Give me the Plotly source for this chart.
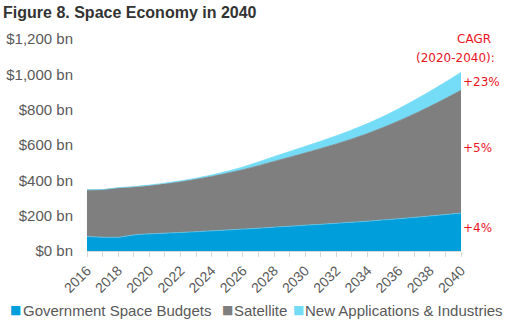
import plotly.graph_objects as go

years = list(range(2016, 2041))
gov = [82, 78, 78, 91, 97, 101, 105, 109, 114, 119, 124, 129, 135, 140, 146,
       151, 157, 163, 169, 176, 183, 190, 198, 206, 215]
gov_plus_sat = [345, 347, 356, 362, 370, 380, 392, 406, 422, 440, 460, 483, 507, 531, 555,
                580, 606, 634, 665, 699, 736, 776, 818, 863, 910]
new_apps = [1, 1, 2, 2, 3, 4, 5, 6, 8, 11, 15, 21, 27, 32, 37,
            41, 46, 51, 56, 62, 69, 77, 85, 93, 101]
satellite = [t - g for t, g in zip(gov_plus_sat, gov)]

names = ["Government Space Budgets", "Satellite", "New Applications & Industries"]
colors = ["#009EDB", "#7F7F7F", "#75DCF8"]
series = [gov, satellite, new_apps]
cagr = ["+4%", "+5%", "+23%"]

yticks = [0, 200, 400, 600, 800, 1000, 1200]
ytick_text = ["$0 bn", "$200 bn", "$400 bn", "$600 bn", "$800 bn", "$1,000 bn", "$1,200 bn"]
xtick_vals = list(range(2016, 2041, 2))

W, H = 511, 326
L, R, T, B = 87, 50, 39, 75
pw, ph = W - L - R, H - T - B

def px(x):
    return (x - L) / pw

def py(y):
    return (H - B - y) / ph

fig = go.Figure()
line_cols = ["#5CC6EE", "#7F7F7F", "#75DCF8"]
for n, c, lc, s in zip(names, colors, line_cols, series):
    fig.add_trace(go.Scatter(x=years, y=s, name=n, stackgroup="one", mode="lines",
                             line=dict(width=0.8, color=lc, shape="spline", smoothing=0.5),
                             fillcolor=c, showlegend=False, hoverinfo="skip"))

fig.update_layout(
    width=W, height=H,
    margin=dict(l=L, r=R, t=T, b=B, autoexpand=False),
    paper_bgcolor="white", plot_bgcolor="white",
    font=dict(family="Liberation Sans, Arial, sans-serif", color="#595959"),
    title=dict(text="<b>Figure 8. Space Economy in 2040</b>",
               font=dict(size=16, color="#333333", family="Liberation Sans, Arial, sans-serif"),
               xref="container", x=0.006, xanchor="left",
               yref="container", y=1 - 12 / H, yanchor="middle"),
    xaxis=dict(range=[2016, 2040], tickvals=xtick_vals, ticktext=[str(v) for v in xtick_vals],
               tickangle=-45, tickfont=dict(size=14, color="#595959"), automargin=False,
               showgrid=False, zeroline=False, showline=True, linecolor="#D9D9D9", linewidth=1,
               ticks="outside", ticklen=5, tickcolor="#D9D9D9",
               minor=dict(dtick=1, ticks="outside", ticklen=5, tickcolor="#D9D9D9")),
    yaxis=dict(range=[0, 1200], tickvals=yticks, ticktext=ytick_text, automargin=False,
               tickfont=dict(size=15, color="#595959"),
               showgrid=False, zeroline=False, showline=False, ticks="",
               ticklabelstandoff=13),
    showlegend=False,
)

# legend drawn as square glyph + label
leg_y = py(310)
for n, c, mx, tx in zip(names, colors, [8, 220, 291], [21, 232, 303]):
    fig.add_annotation(text="■", xref="paper", yref="paper", x=px(mx), y=leg_y,
                       xanchor="left", yanchor="middle", showarrow=False,
                       font=dict(family="DejaVu Sans", size=12, color=c))
    fig.add_annotation(text=n, xref="paper", yref="paper", x=px(tx), y=leg_y,
                       xanchor="left", yanchor="middle", showarrow=False,
                       font=dict(size=15, color="#595959"))

red = "#E8141E"
fig.add_annotation(text="CAGR", xref="paper", yref="paper", x=px(493), y=py(39),
                   xanchor="right", yanchor="middle", showarrow=False,
                   font=dict(family="DejaVu Sans", size=12, color=red))
fig.add_annotation(text="(2020-2040):", xref="paper", yref="paper", x=px(497), y=py(58),
                   xanchor="right", yanchor="middle", showarrow=False,
                   font=dict(family="DejaVu Sans", size=12, color=red))
for label, ypos in zip(cagr, [228, 148, 82]):
    fig.add_annotation(text=label, xref="paper", yref="paper", x=px(461), y=py(ypos),
                       xanchor="left", yanchor="middle", showarrow=False,
                       font=dict(family="DejaVu Sans", size=12, color=red))

fig.write_html("out.html")
